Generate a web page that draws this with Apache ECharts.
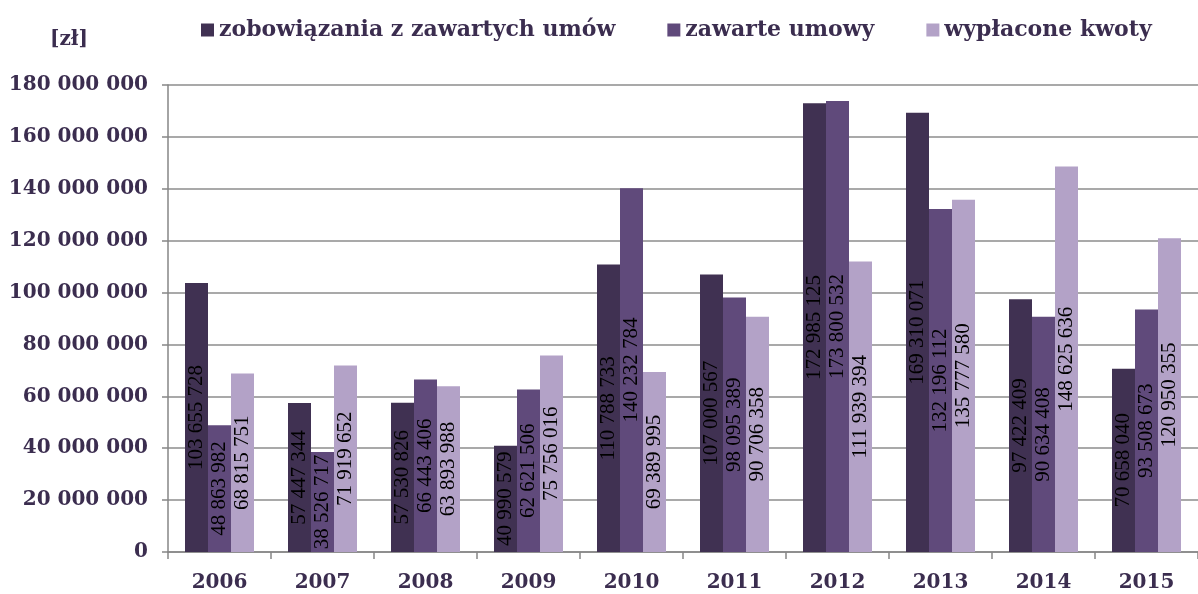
<!DOCTYPE html>
<html>
<head>
<meta charset="utf-8">
<script src="https://cdn.jsdelivr.net/npm/echarts@6/dist/echarts.min.js"></script>
<style>
html, body { margin: 0; padding: 0; background: #fff; }
#chart { width: 1198px; height: 594px; }
</style>
</head>
<body>
<div id="chart"></div>
<script>
// lata
let years = ['2006', '2007', '2008', '2009', '2010', '2011', '2012', '2013', '2014', '2015']
// [zł]
let zobowiazania = [103655728, 57447344, 57530826, 40990579, 110788733, 107000567, 172985125, 169310071, 97422409, 70658040]
let zawarte = [48863982, 38526717, 66443406, 62621506, 140232784, 98095389, 173800532, 132196112, 90634408, 93508673]
let wyplacone = [68815751, 71919652, 63893988, 75756016, 69389995, 90706358, 111939394, 135777580, 148625636, 120950355]
let seriesNames = ['zobowiązania z zawartych umów', 'zawarte umowy', 'wypłacone kwoty']

function fmt(v) {
    return String(v).replace(/\B(?=(\d{3})+(?!\d))/g, ' ')
}

let chart = echarts.init(document.getElementById('chart'))
let textColor = '#3b2d4f'
let barLabel = {
    show: true,
    position: 'inside',
    rotate: 90,
    color: '#000',
    fontFamily: 'Liberation Serif',
    fontSize: 21,
    formatter: function(p) {
        return fmt(p.value)
    }
}

function makeSeries(name, data, color) {
    return {
        name: name,
        type: 'bar',
        data: data,
        barWidth: 23,
        barGap: '0%',
        itemStyle: { color: color },
        label: barLabel
    }
}

let option = {
    animation: false,
    legend: {
        left: 196,
        top: 14,
        itemWidth: 13,
        itemHeight: 13,
        itemGap: 52,
        icon: 'rect',
        textStyle: {
            color: textColor,
            fontFamily: 'DejaVu Serif',
            fontWeight: 'bold',
            fontSize: 22
        }
    },
    graphic: [
        {
            type: 'text',
            left: 50,
            top: 30,
            style: {
                text: '[zł]',
                fill: textColor,
                font: 'bold 20px "DejaVu Serif"'
            }
        }
    ],
    grid: {
        left: 168,
        right: -11,
        top: 85,
        bottom: 42
    },
    xAxis: {
        type: 'category',
        data: years,
        axisLine: { lineStyle: { color: '#868686', width: 1.5 } },
        axisTick: { show: true, interval: 0, length: 7, lineStyle: { color: '#868686', width: 1.5 } },
        axisLabel: {
            margin: 21,
            color: textColor,
            fontFamily: 'DejaVu Serif',
            fontWeight: 'bold',
            fontSize: 20
        }
    },
    yAxis: {
        type: 'value',
        min: 0,
        max: 180000000,
        interval: 20000000,
        axisLine: { show: true, lineStyle: { color: '#868686', width: 1.5 } },
        axisTick: { show: true, length: 6, lineStyle: { color: '#868686', width: 1.5 } },
        splitLine: { lineStyle: { color: '#8c8c8c', width: 1.5 } },
        axisLabel: {
            margin: 20,
            color: textColor,
            fontFamily: 'DejaVu Serif',
            fontWeight: 'bold',
            fontSize: 20,
            formatter: fmt
        }
    },
    series: [
        makeSeries(seriesNames[0], zobowiazania, '#403152'),
        makeSeries(seriesNames[1], zawarte, '#604a7b'),
        makeSeries(seriesNames[2], wyplacone, '#b3a2c7')
    ]
}

chart.setOption(option)
</script>
</body>
</html>
